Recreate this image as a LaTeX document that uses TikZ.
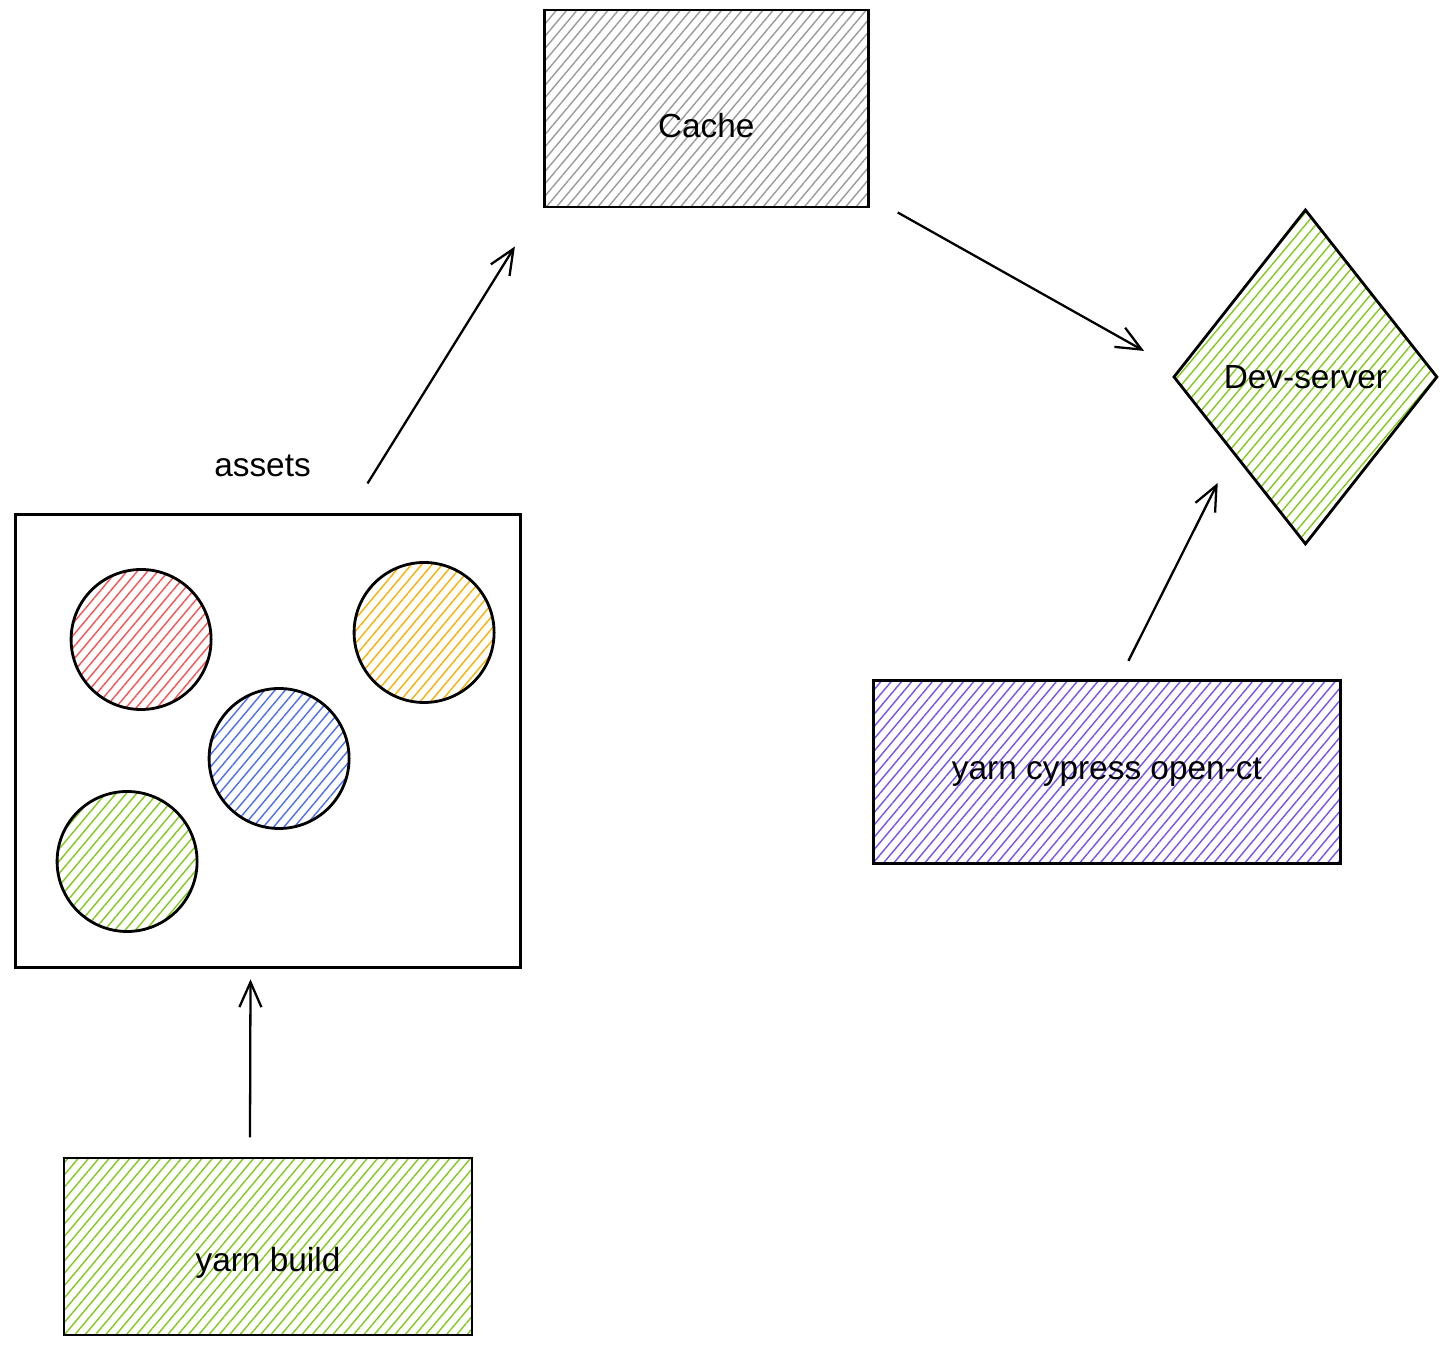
\documentclass[tikz,border=0pt]{standalone}
\usepackage{fontspec}
\setmainfont{Liberation Sans}
\usepackage{tikz}
\usetikzlibrary{positioning}
\usetikzlibrary{arrows,arrows.meta}
\usetikzlibrary{calc}
\usetikzlibrary{patterns,patterns.meta}
\usetikzlibrary{shapes,shapes.geometric}
\definecolor{hgray}{HTML}{9A9A9A}
\definecolor{hgreen}{HTML}{82C91E}
\definecolor{hviolet}{HTML}{7950F2}
\definecolor{hred}{HTML}{FA5252}
\definecolor{horange}{HTML}{FAB005}
\definecolor{hblue}{HTML}{4C6EF5}
\tikzstyle{hatch} = [pattern={Lines[angle=50,distance=4.5pt,line width=0.8pt]}]
\tikzstyle{block} = [draw, rectangle, line width=1.6pt, hatch, font=\fontsize{19}{23}\selectfont]
\tikzstyle{frame} = [draw, rectangle, line width=1.6pt, fill=white]
\tikzstyle{ball} = [draw, circle, line width=1.6pt, minimum size=2.8cm, hatch]
\tikzstyle{server} = [draw, diamond, line width=1.6pt, hatch, inner sep=0pt, font=\fontsize{19}{23}\selectfont]
\tikzstyle{arr} = [->, line width=1.3pt]

\begin{document}
\begin{tikzpicture}[auto, >={Straight Barb[length=5mm,width=4.4mm]}]
	\useasboundingbox (0,0) rectangle (28.96,-27);

	\node [block, minimum width=8.16cm, minimum height=3.54cm, text height=1.15cm, pattern color=hgreen] (build) at (5.36,-24.93) {yarn build};
	\node [frame, minimum width=10.1cm, minimum height=9.06cm, node distance=3.76cm, above=of build] (assets) {};
	\node [node distance=0.6cm, above=of assets, xshift=-0.11cm, font=\fontsize{19}{23}\selectfont] (assetslabel) {assets};

	\node [ball, pattern color=hred] (rot) at ($(assets.north west)+(2.54,-2.52)$) {};
	\node [ball, pattern color=horange] (orange) at ($(assets.north west)+(8.2,-2.38)$) {};
	\node [ball, pattern color=hblue] (blau) at ($(assets.north west)+(5.3,-4.9)$) {};
	\node [ball, pattern color=hgreen] (gruen) at ($(assets.north west)+(2.26,-6.96)$) {};

	\node [block, minimum width=6.48cm, minimum height=3.94cm, text height=1.15cm, pattern color=hgray, node distance=6.1cm and 0.42cm, above right=of assets] (cache) {Cache};
	\node [server, minimum width=5.28cm, minimum height=6.7cm, pattern color=hgreen, node distance=1.68cm and 7.38cm, below right=of cache] (devserver) {Dev-server};
	\node [block, minimum width=9.34cm, minimum height=3.66cm, pattern color=hviolet, node distance=2.66cm, below=of devserver, xshift=-3.97cm] (cypress) {yarn cypress open-ct};

	\draw [arr] ([xshift=-0.36cm, yshift=0.4cm]build.north) -- ([xshift=-0.35cm, yshift=-0.2cm]assets.south);
	\draw [arr] ([xshift=1.99cm, yshift=0.6cm]assets.north) -- ([xshift=-0.56cm, yshift=-0.76cm]cache.south west);
	\draw [arr] ([xshift=0.56cm, yshift=-0.08cm]cache.south east) -- ([xshift=-0.56cm, yshift=0.52cm]devserver.west);
	\draw [arr] ([xshift=0.43cm, yshift=0.36cm]cypress.north) -- ([xshift=-0.42cm, yshift=-0.43cm]devserver.south west);

\end{tikzpicture}
\end{document}
